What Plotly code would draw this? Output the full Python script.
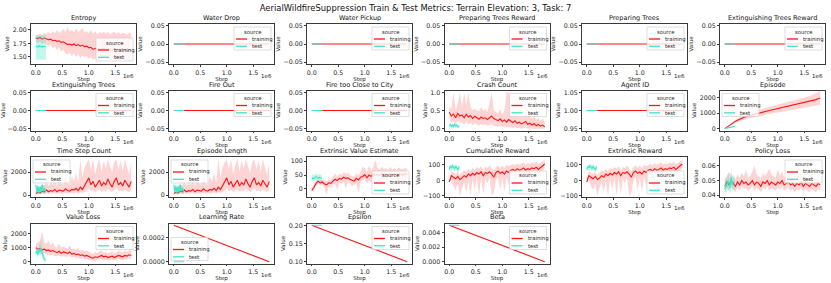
import plotly.graph_objects as go

# ---------------- data (steps in units of 1e6) ----------------
STEP_TRAIN = [0.00, 0.04, 0.08, 0.12, 0.16, 0.20, 0.24, 0.28, 0.32, 0.36, 0.40, 0.44, 0.48, 0.52, 0.56,
              0.60, 0.64, 0.68, 0.72, 0.76, 0.80, 0.84, 0.88, 0.92, 0.96, 1.00, 1.04, 1.08, 1.12, 1.16,
              1.20, 1.24, 1.28, 1.32, 1.36, 1.40, 1.44, 1.48, 1.52, 1.56, 1.60, 1.64, 1.68, 1.72, 1.76, 1.80]
STEP_TEST = [0.00, 0.02, 0.04, 0.06, 0.08, 0.10, 0.12, 0.14, 0.16, 0.19]
STEP_LINE_TRAIN = [0.00, 1.80]
STEP_LINE_TEST = [0.00, 0.19]

ENTROPY_TRAIN = [1.85, 1.84, 1.86, 1.83, 1.85, 1.84, 1.82, 1.83, 1.80, 1.81, 1.79, 1.80, 1.77, 1.78, 1.75,
                 1.73, 1.74, 1.72, 1.74, 1.71, 1.73, 1.70, 1.72, 1.69, 1.70, 1.67, 1.68, 1.64, 1.66, 1.63,
                 1.65, 1.64, 1.66, 1.63, 1.65, 1.64, 1.62, 1.65, 1.63, 1.64, 1.62, 1.64, 1.63, 1.61, 1.63, 1.62]
ENTROPY_TRAIN_HI = [1.90, 1.92, 1.93, 1.90, 1.95, 1.92, 1.96, 1.93, 1.98, 1.94, 2.00, 1.95, 1.97, 2.02, 1.96,
                    2.05, 1.97, 2.00, 1.95, 2.02, 1.96, 1.99, 2.04, 1.95, 1.98, 1.94, 2.00, 1.93, 1.97, 1.92,
                    1.96, 1.94, 1.97, 1.93, 1.96, 1.92, 1.95, 1.97, 1.93, 1.96, 1.92, 1.95, 1.94, 1.91, 1.95, 1.93]
ENTROPY_TRAIN_LO = [1.78, 1.76, 1.79, 1.74, 1.77, 1.72, 1.70, 1.73, 1.66, 1.70, 1.62, 1.68, 1.60, 1.64, 1.56,
                    1.55, 1.58, 1.52, 1.57, 1.50, 1.55, 1.48, 1.53, 1.50, 1.52, 1.47, 1.50, 1.45, 1.48, 1.44,
                    1.46, 1.45, 1.48, 1.44, 1.47, 1.45, 1.43, 1.47, 1.44, 1.46, 1.43, 1.45, 1.44, 1.42, 1.45, 1.43]
ENTROPY_TEST = [1.69, 1.70, 1.68, 1.71, 1.69, 1.70, 1.68, 1.70, 1.69, 1.70]
ENTROPY_TEST_LO = [1.45, 1.45, 1.45, 1.45, 1.45, 1.45, 1.45, 1.45, 1.45, 1.45]
ENTROPY_TEST_HI = [1.90, 1.90, 1.90, 1.90, 1.90, 1.90, 1.90, 1.90, 1.90, 1.90]

ZERO_TRAIN = [0.0, 0.0]
ZERO_TEST = [0.0, 0.0]
AGENT_ID_TRAIN = [1.0, 1.0]
AGENT_ID_TEST = [1.0, 1.0]

CRASH_TRAIN = [0.45, 0.35, 0.40, 0.30, 0.42, 0.35, 0.38, 0.30, 0.40, 0.32, 0.36, 0.28, 0.34, 0.30, 0.26,
               0.32, 0.28, 0.30, 0.25, 0.30, 0.35, 0.28, 0.24, 0.22, 0.27, 0.20, 0.24, 0.18, 0.25, 0.20,
               0.17, 0.22, 0.15, 0.18, 0.13, 0.16, 0.20, 0.12, 0.15, 0.10, 0.14, 0.08, 0.12, 0.07, 0.10, 0.05]
CRASH_TRAIN_HI = [0.60, 0.55, 1.00, 0.50, 0.70, 1.00, 0.60, 1.00, 0.65, 1.00, 0.60, 0.50, 0.55, 0.50, 0.48,
                  0.60, 0.50, 0.55, 0.45, 0.70, 1.00, 0.50, 0.45, 0.42, 0.55, 0.40, 0.50, 1.00, 1.00, 0.42,
                  0.38, 0.45, 0.35, 0.40, 0.30, 0.38, 0.45, 0.30, 0.35, 0.28, 0.35, 0.25, 0.30, 0.22, 0.28, 0.18]
CRASH_TRAIN_LO = [0.30, 0.15, 0.20, 0.12, 0.22, 0.15, 0.18, 0.10, 0.20, 0.12, 0.15, 0.10, 0.14, 0.12, 0.08,
                  0.12, 0.10, 0.12, 0.08, 0.10, 0.12, 0.08, 0.06, 0.05, 0.08, 0.04, 0.06, 0.03, 0.06, 0.04,
                  0.02, 0.05, 0.01, 0.03, 0.00, 0.02, 0.04, 0.00, 0.02, 0.00, 0.01, 0.00, 0.00, 0.00, 0.00, 0.00]
CRASH_TEST = [0.08, 0.12, 0.05, 0.10, 0.06, 0.12, 0.08, 0.10, 0.05, 0.07]
CRASH_TEST_LO = [0.02, 0.05, 0.00, 0.03, 0.00, 0.05, 0.02, 0.04, 0.00, 0.01]
CRASH_TEST_HI = [0.14, 0.16, 0.10, 0.15, 0.12, 0.16, 0.14, 0.15, 0.10, 0.12]

EPISODE_TRAIN = [0, 100, 200, 290, 380, 470, 540, 610, 670, 730, 780, 820, 860, 900, 940,
                 980, 1020, 1050, 1090, 1120, 1150, 1180, 1210, 1240, 1270, 1300, 1330, 1360, 1390, 1420,
                 1450, 1480, 1510, 1540, 1570, 1600, 1630, 1660, 1690, 1720, 1760, 1800, 1840, 1880, 1930, 1990]
EPISODE_TRAIN_SPREAD = [0, 20, 40, 60, 80, 100, 110, 120, 130, 140, 150, 160, 170, 180, 190,
                        200, 205, 210, 215, 220, 225, 230, 235, 240, 245, 250, 255, 260, 265, 270,
                        275, 280, 285, 290, 295, 300, 310, 320, 330, 340, 350, 360, 380, 400, 420, 450]
EPISODE_TEST = [0, 15, 30, 50, 65, 80, 95, 115, 130, 150]
EPISODE_TEST_SPREAD = [0, 10, 15, 20, 25, 30, 30, 35, 35, 40]

TIMESTEP_TRAIN = [150, 250, 200, 350, 300, 450, 300, 400, 350, 500, 300, 450, 400, 350, 550,
                  400, 350, 500, 450, 600, 400, 700, 500, 800, 1100, 1500, 900, 1200, 700, 1000,
                  1300, 800, 1100, 900, 1400, 1000, 700, 1200, 1500, 900, 1100, 800, 1300, 1000, 700, 1200]
TIMESTEP_TRAIN_HI = [400, 600, 700, 900, 800, 1200, 800, 1100, 900, 1400, 800, 1300, 1000, 900, 1800,
                     1000, 900, 1600, 1200, 1900, 1100, 3100, 1500, 2400, 2800, 3100, 2200, 3100, 1800, 2600,
                     3100, 2000, 3000, 2300, 3100, 2500, 1900, 2900, 3100, 2200, 3000, 2000, 3100, 2400, 1800, 2800]
TIMESTEP_TRAIN_LO = [50, 100, 80, 150, 120, 200, 120, 150, 150, 200, 120, 180, 150, 150, 200,
                     150, 150, 200, 180, 250, 150, 250, 200, 300, 400, 600, 350, 450, 250, 400,
                     500, 300, 400, 350, 550, 400, 250, 450, 600, 350, 400, 300, 500, 400, 250, 450]
TIMESTEP_TEST = [900, 300, 800, 200, 750, 300, 900, 350, 600, 250]
TIMESTEP_TEST_LO = [300, 50, 200, 0, 150, 50, 300, 100, 150, 50]
TIMESTEP_TEST_HI = [1100, 700, 1050, 600, 1000, 700, 1100, 800, 900, 600]

EVE_TRAIN = [-5, 5, 20, 28, 22, 25, 18, 15, 22, 20, 28, 35, 30, 38, 35,
             42, 38, 40, 35, 30, 28, 38, 32, 42, 45, 52, 40, 50, 45, 55,
             50, 52, 48, 55, 50, 52, 48, 55, 50, 53, 48, 55, 52, 50, 55, 52]
EVE_TRAIN_HI = [0, 15, 30, 35, 30, 35, 30, 28, 35, 32, 45, 55, 45, 55, 50,
                60, 55, 58, 50, 45, 45, 55, 50, 60, 80, 75, 60, 85, 65, 80,
                105, 75, 70, 80, 72, 75, 68, 80, 70, 75, 68, 78, 72, 70, 75, 72]
EVE_TRAIN_LO = [-10, -5, 10, 20, 12, 15, 5, -20, 10, 5, 15, 20, -5, 25, 20,
                28, 0, 25, 20, 10, 15, 20, -15, 25, 30, 35, 20, 30, 25, 35,
                30, 32, 28, 35, 30, 32, 28, 35, 30, 33, 28, 35, 32, 30, 35, 32]
EVE_TEST = [35, 40, 38, 42, 45, 40, 38, 42, 40, 38]
EVE_TEST_LO = [28, 30, 27, 32, 33, 30, 28, 31, 30, 28]
EVE_TEST_HI = [48, 52, 50, 55, 56, 52, 50, 54, 52, 50]

REWARD_TRAIN = [-10, 30, 20, 10, 25, 5, 15, 30, 20, 40, 30, 45, 35, 50, 40,
                55, 30, 50, 45, 55, 40, 20, 50, 60, 45, 55, 40, 60, 50, 65,
                70, 60, 75, 65, 70, 80, 65, 75, 70, 80, 75, 85, 70, 80, 90, 105]
REWARD_TRAIN_HI = [10, 60, 50, 40, 55, 35, 50, 65, 55, 75, 60, 80, 70, 85, 75,
                   90, 65, 85, 80, 95, 75, 60, 85, 95, 80, 95, 80, 100, 90, 100,
                   105, 95, 110, 100, 105, 115, 100, 110, 105, 115, 110, 120, 105, 115, 125, 130]
REWARD_TRAIN_LO = [-20, 0, -40, -60, -20, -100, -50, -10, -80, 0, -100, 10, -60, 15, -100,
                   20, -90, 10, -20, 20, -100, -80, 0, 25, -60, 20, -70, 25, -30, 30,
                   35, 0, 40, 20, 30, 45, 20, 40, 30, 45, 40, 50, 35, 45, 55, 80]
REWARD_TEST = [70, 90, 80, 95, 85, 75, 90, 80, 70, 85]
REWARD_TEST_LO = [55, 65, 60, 70, 62, 55, 68, 60, 52, 62]
REWARD_TEST_HI = [90, 105, 100, 108, 102, 95, 105, 100, 92, 100]

POLICY_TRAIN = [0.046, 0.049, 0.047, 0.050, 0.048, 0.046, 0.049, 0.047, 0.050, 0.048, 0.049, 0.047, 0.048, 0.050, 0.047,
                0.049, 0.048, 0.046, 0.049, 0.048, 0.050, 0.047, 0.049, 0.048, 0.047, 0.049, 0.048, 0.050, 0.047, 0.048,
                0.049, 0.047, 0.048, 0.046, 0.048, 0.047, 0.049, 0.046, 0.048, 0.047, 0.046, 0.048, 0.047, 0.046, 0.048, 0.047]
POLICY_TRAIN_HI = [0.051, 0.053, 0.056, 0.054, 0.052, 0.051, 0.054, 0.052, 0.055, 0.053, 0.057, 0.052, 0.053, 0.056, 0.060,
                   0.054, 0.053, 0.051, 0.055, 0.053, 0.056, 0.058, 0.054, 0.053, 0.052, 0.058, 0.053, 0.056, 0.052, 0.053,
                   0.055, 0.052, 0.053, 0.051, 0.054, 0.052, 0.055, 0.051, 0.053, 0.052, 0.051, 0.054, 0.052, 0.051, 0.053, 0.052]
POLICY_TRAIN_LO = [0.042, 0.045, 0.043, 0.046, 0.044, 0.042, 0.045, 0.043, 0.046, 0.044, 0.045, 0.043, 0.044, 0.046, 0.043,
                   0.045, 0.044, 0.042, 0.045, 0.044, 0.046, 0.043, 0.045, 0.044, 0.043, 0.045, 0.044, 0.046, 0.043, 0.044,
                   0.045, 0.043, 0.044, 0.042, 0.044, 0.043, 0.045, 0.042, 0.044, 0.043, 0.042, 0.044, 0.043, 0.042, 0.044, 0.043]
POLICY_TEST = [0.044, 0.047, 0.046, 0.050, 0.048, 0.045, 0.052, 0.047, 0.049, 0.048]
POLICY_TEST_LO = [0.041, 0.042, 0.042, 0.044, 0.043, 0.041, 0.045, 0.042, 0.044, 0.043]
POLICY_TEST_HI = [0.049, 0.052, 0.051, 0.055, 0.053, 0.050, 0.057, 0.052, 0.054, 0.053]

VALUE_LOSS_TRAIN = [1000, 900, 950, 850, 900, 800, 850, 750, 800, 700, 650, 750, 600, 700, 650,
                    600, 700, 550, 600, 500, 550, 450, 500, 400, 450, 350, 300, 250, 350, 300,
                    400, 450, 350, 400, 300, 350, 400, 300, 350, 450, 400, 350, 450, 400, 500, 450]
VALUE_LOSS_TRAIN_HI = [1300, 1400, 1500, 2200, 1400, 1300, 1500, 1200, 1400, 1100, 1000, 1300, 1000, 1100, 1000,
                       950, 1200, 900, 950, 850, 1000, 800, 850, 750, 800, 700, 600, 550, 700, 600,
                       750, 800, 650, 700, 600, 650, 750, 600, 650, 800, 700, 650, 800, 700, 850, 750]
VALUE_LOSS_TRAIN_LO = [700, 600, 600, 500, 600, 500, 500, 450, 500, 400, 400, 450, 350, 400, 350,
                       350, 400, 300, 350, 250, 300, 200, 250, 150, 200, 100, 100, 50, 100, 100,
                       150, 200, 100, 150, 100, 100, 150, 100, 100, 200, 150, 100, 200, 150, 250, 200]
VALUE_LOSS_TEST = [600, 800, 500, 900, 700, 1000, 600, 400, 200, 100]
VALUE_LOSS_TEST_LO = [300, 500, 200, 600, 300, 600, 300, 100, 0, 0]
VALUE_LOSS_TEST_HI = [900, 1100, 800, 1300, 1200, 1700, 1000, 700, 400, 200]

LR_TRAIN = [0.0003, 0.0]
LR_TEST = [0.0, 0.0]
EPSILON_TRAIN = [0.20, 0.10]
EPSILON_TEST = [0.20, 0.20]
BETA_TRAIN = [0.005, 0.0]
BETA_TEST = [0.005, 0.005]

X_TICKS = [0.0, 0.5, 1.0, 1.5]
X_TICK_TEXT = ["0.0", "0.5", "1.0", "1.5"]

# ---------------- styling ----------------
W, H = 831, 283
FONT = "DejaVu Sans"
RED = "#ff1414"
RED_BAND = "rgba(255,60,60,0.22)"
TEAL = "#3ee6c6"
TEAL_BAND = "rgba(62,230,198,0.32)"
SPINE = "#3a3a3a"
COL_L = [31, 169, 307, 444.5, 582, 720]
ROW_T = [24, 90.5, 157, 223.5]
AX_W = 105
AX_H = 40
FS_TICK, FS_LABEL, FS_TITLE, FS_LEG, FS_MAIN = 6.3, 5.5, 6.5, 5.3, 8.4


def spread(mean, s, sign):
    return [m + sign * d for m, d in zip(mean, s)]


Z = "zero"
panels = [
    ("Entropy", (STEP_TRAIN, ENTROPY_TRAIN, ENTROPY_TRAIN_LO, ENTROPY_TRAIN_HI),
     (STEP_TEST, ENTROPY_TEST, ENTROPY_TEST_LO, ENTROPY_TEST_HI),
     [1.37, 2.11], [1.5, 1.75, 2.0], ["1.50", "1.75", "2.00"], "lr"),
    ("Water Drop", Z), ("Water Pickup", Z), ("Preparing Trees Reward", Z), ("Preparing Trees", Z),
    ("Extinguishing Trees Reward", Z), ("Extinguishing Trees", Z), ("Fire Out", Z), ("Fire too Close to City", Z),
    ("Crash Count", (STEP_TRAIN, CRASH_TRAIN, CRASH_TRAIN_LO, CRASH_TRAIN_HI),
     (STEP_TEST, CRASH_TEST, CRASH_TEST_LO, CRASH_TEST_HI),
     [-0.05, 1.05], [0, 0.5, 1.0], ["0.0", "0.5", "1.0"], "ur"),
    ("Agent ID", (STEP_LINE_TRAIN, AGENT_ID_TRAIN, None, None), (STEP_LINE_TEST, AGENT_ID_TEST, None, None),
     [0.945, 1.055], [0.95, 1.0, 1.05], ["0.95", "1.00", "1.05"], "ur"),
    ("Episode", (STEP_TRAIN, EPISODE_TRAIN, spread(EPISODE_TRAIN, EPISODE_TRAIN_SPREAD, -1),
                 spread(EPISODE_TRAIN, EPISODE_TRAIN_SPREAD, 1)),
     (STEP_TEST, EPISODE_TEST, spread(EPISODE_TEST, EPISODE_TEST_SPREAD, -1),
      spread(EPISODE_TEST, EPISODE_TEST_SPREAD, 1)),
     [-120, 2470], [0, 1000, 2000], ["0", "1000", "2000"], "ul"),
    ("Time Step Count", (STEP_TRAIN, TIMESTEP_TRAIN, TIMESTEP_TRAIN_LO, TIMESTEP_TRAIN_HI),
     (STEP_TEST, TIMESTEP_TEST, TIMESTEP_TEST_LO, TIMESTEP_TEST_HI),
     [-150, 3300], [0, 2000], ["0", "2000"], "ul"),
    ("Episode Length", (STEP_TRAIN, TIMESTEP_TRAIN, TIMESTEP_TRAIN_LO, TIMESTEP_TRAIN_HI),
     (STEP_TEST, TIMESTEP_TEST, TIMESTEP_TEST_LO, TIMESTEP_TEST_HI),
     [-150, 3300], [0, 2000], ["0", "2000"], "ul"),
    ("Extrinsic Value Estimate", (STEP_TRAIN, EVE_TRAIN, EVE_TRAIN_LO, EVE_TRAIN_HI),
     (STEP_TEST, EVE_TEST, EVE_TEST_LO, EVE_TEST_HI),
     [-29, 115], [0, 50, 100], ["0", "50", "100"], "lr"),
    ("Cumulative Reward", (STEP_TRAIN, REWARD_TRAIN, REWARD_TRAIN_LO, REWARD_TRAIN_HI),
     (STEP_TEST, REWARD_TEST, REWARD_TEST_LO, REWARD_TEST_HI),
     [-107, 150], [-100, 0, 100], ["\u2212100", "0", "100"], "lr"),
    ("Extrinsic Reward", (STEP_TRAIN, REWARD_TRAIN, REWARD_TRAIN_LO, REWARD_TRAIN_HI),
     (STEP_TEST, REWARD_TEST, REWARD_TEST_LO, REWARD_TEST_HI),
     [-107, 150], [-100, 0, 100], ["\u2212100", "0", "100"], "lr"),
    ("Policy Loss", (STEP_TRAIN, POLICY_TRAIN, POLICY_TRAIN_LO, POLICY_TRAIN_HI),
     (STEP_TEST, POLICY_TEST, POLICY_TEST_LO, POLICY_TEST_HI),
     [0.0388, 0.0659], [0.04, 0.05, 0.06], ["0.04", "0.05", "0.06"], "ur"),
    ("Value Loss", (STEP_TRAIN, VALUE_LOSS_TRAIN, VALUE_LOSS_TRAIN_LO, VALUE_LOSS_TRAIN_HI),
     (STEP_TEST, VALUE_LOSS_TEST, VALUE_LOSS_TEST_LO, VALUE_LOSS_TEST_HI),
     [-130, 2750], [0, 1000, 2000], ["0", "1000", "2000"], "ur"),
    ("Learning Rate", (STEP_LINE_TRAIN, LR_TRAIN, None, None), (STEP_LINE_TEST, LR_TEST, None, None),
     [-0.000015, 0.000315], [0, 0.0002], ["0.0000", "0.0002"], "ll"),
    ("Epsilon", (STEP_LINE_TRAIN, EPSILON_TRAIN, None, None), (STEP_LINE_TEST, EPSILON_TEST, None, None),
     [0.095, 0.205], [0.10, 0.15, 0.20], ["0.10", "0.15", "0.20"], "ur"),
    ("Beta", (STEP_LINE_TRAIN, BETA_TRAIN, None, None), (STEP_LINE_TEST, BETA_TEST, None, None),
     [-0.00025, 0.00525], [0, 0.002, 0.004], ["0.000", "0.002", "0.004"], "ur"),
]

fig = go.Figure()
shapes, annotations = [], []
layout_axes = {}

for idx, p in enumerate(panels):
    k = idx + 1
    if p[1] == Z:
        p = (p[0], (STEP_LINE_TRAIN, ZERO_TRAIN, None, None), (STEP_LINE_TEST, ZERO_TEST, None, None),
             [-0.055, 0.055], [-0.05, 0.0, 0.05], ["\u22120.05", "0.00", "0.05"], "ur")
    title, tr, te, yr, tv, tt, leg = p
    xn = "x" if k == 1 else f"x{k}"
    yn = "y" if k == 1 else f"y{k}"
    r, c = divmod(idx, 6)
    left, top = COL_L[c], ROW_T[r]

    for (xs, ys, lo, hi), col, band in ((tr, RED, RED_BAND), (te, TEAL, TEAL_BAND)):
        if lo is not None:
            fig.add_trace(go.Scatter(x=list(xs) + list(xs)[::-1], y=list(hi) + list(lo)[::-1],
                                     fill="toself", fillcolor=band, line=dict(width=0), mode="lines",
                                     hoverinfo="skip", showlegend=False, xaxis=xn, yaxis=yn))
        fig.add_trace(go.Scatter(x=xs, y=ys, mode="lines", line=dict(color=col, width=1.1),
                                 showlegend=False, xaxis=xn, yaxis=yn))

    axis_common = dict(showline=True, mirror=True, linecolor=SPINE, linewidth=0.9, ticks="outside",
                       ticklen=2, tickwidth=0.6, tickcolor=SPINE, showgrid=False, zeroline=False,
                       tickfont=dict(size=FS_TICK, family=FONT, color="#222"), automargin=False)
    layout_axes["xaxis" if k == 1 else f"xaxis{k}"] = dict(
        domain=[left / W, (left + AX_W) / W], anchor=yn, range=[-0.09, 1.89],
        tickvals=X_TICKS, ticktext=X_TICK_TEXT,
        title=dict(text="Step", font=dict(size=FS_LABEL, family=FONT, color="#222"), standoff=0), **axis_common)
    layout_axes["yaxis" if k == 1 else f"yaxis{k}"] = dict(
        domain=[1 - (top + AX_H) / H, 1 - top / H], anchor=xn, range=yr, tickvals=tv, ticktext=tt,
        title=dict(text="Value", font=dict(size=FS_LABEL, family=FONT, color="#222"), standoff=2), **axis_common)

    xd, yd = f"{xn} domain", f"{yn} domain"
    annotations.append(dict(text=title, xref=xd, yref=yd, x=0.5, y=1, xanchor="center", yanchor="bottom",
                            yshift=0, showarrow=False, font=dict(size=FS_TITLE, family=FONT, color="#111")))
    annotations.append(dict(text="1e6", xref=xd, yref=yd, x=1, y=0, xanchor="right", yanchor="middle",
                            yshift=-11.5, showarrow=False, font=dict(size=FS_LABEL, family=FONT, color="#222")))

    # legend box (drawn as layout decoration inside each panel)
    LW, LH, INS = 37, 23, 3
    if leg in ("ur", "lr"):
        x0 = 1 - (INS + LW) / AX_W
    else:
        x0 = 2 / AX_W
    if leg in ("ur", "ul"):
        ytop = 1 - INS / AX_H
    else:
        ytop = (INS + LH) / AX_H
    fx = lambda px: x0 + px / AX_W
    fy = lambda px: ytop - px / AX_H
    shapes.append(dict(type="rect", xref=xd, yref=yd, x0=x0, x1=fx(LW), y0=fy(LH), y1=ytop,
                       fillcolor="rgba(255,255,255,0.8)", line=dict(color="#d0d0d0", width=0.7), layer="above"))
    annotations.append(dict(text="source", xref=xd, yref=yd, x=fx(LW / 2), y=fy(4.5), xanchor="center",
                            yanchor="middle", showarrow=False, font=dict(size=FS_LEG, family=FONT, color="#222")))
    for j, (lab, col) in enumerate((("training", RED), ("test", TEAL))):
        yy = fy(12 + 7.3 * j)
        shapes.append(dict(type="line", xref=xd, yref=yd, x0=fx(2), x1=fx(13), y0=yy, y1=yy,
                           line=dict(color=col, width=1.3), layer="above"))
        annotations.append(dict(text=lab, xref=xd, yref=yd, x=fx(16), y=yy, xanchor="left", yanchor="middle",
                                showarrow=False, font=dict(size=FS_LEG, family=FONT, color="#222")))

fig.update_layout(
    width=W, height=H, margin=dict(l=0, r=0, t=0, b=0),
    paper_bgcolor="white", plot_bgcolor="white", showlegend=False,
    title=dict(text="AerialWildfireSuppression Train & Test Metrics: Terrain Elevation: 3, Task: 7",
               x=0.5, xanchor="center", y=1 - 8 / H, yanchor="middle",
               font=dict(size=FS_MAIN, family=FONT, color="#111")),
    shapes=shapes, annotations=annotations, **layout_axes)

fig.write_html("out.html", config={"displayModeBar": False},
               post_script="document.body.style.margin='0';document.body.style.overflow='hidden';")
